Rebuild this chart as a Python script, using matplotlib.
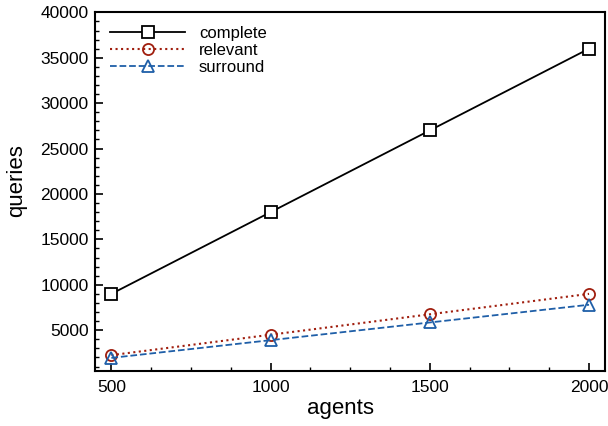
import matplotlib
matplotlib.use('Agg')
from matplotlib import pyplot as plt
from matplotlib.ticker import MultipleLocator

plt.rcParams['font.family'] = ['Liberation Sans', 'DejaVu Sans']

agents = [500, 1000, 1500, 2000]
complete = [9000, 18000, 27000, 36000]
relevant = [2250, 4500, 6750, 9000]
surround = [1950, 3900, 5850, 7800]

fig = plt.figure(figsize=(6.08, 4.26), dpi=100)
ax = fig.add_axes([0.157, 0.129, 0.838, 0.842])

ax.plot(agents, complete, '-', color='black', marker='s', markersize=8,
        markerfacecolor='white', markeredgewidth=1.3, linewidth=1.3, label='complete')
ax.plot(agents, relevant, ':', color='#a01e0e', marker='o', markersize=8,
        markerfacecolor='none', markeredgewidth=1.3, linewidth=1.5, label='relevant')
ax.plot(agents, surround, '--', color='#1f5fa8', marker='^', markersize=8,
        markerfacecolor='none', markeredgewidth=1.3, linewidth=1.3, label='surround')

ax.set_xlim(450, 2050)
ax.set_ylim(500, 40000)
ax.set_xticks(agents)
ax.set_yticks(range(5000, 40001, 5000))
ax.xaxis.set_minor_locator(MultipleLocator(125))
ax.yaxis.set_minor_locator(MultipleLocator(1000))
ax.tick_params(which='both', direction='in', top=False, right=False, labelsize=12.5)
ax.tick_params(which='major', length=6, width=1.2)
ax.tick_params(which='minor', length=3, width=1)
ax.tick_params(axis='x', which='major', pad=6.5)
ax.tick_params(axis='y', which='major', pad=5)
for s in ax.spines.values():
    s.set_linewidth(1.5)

ax.set_xlabel('agents', fontsize=16)
ax.set_ylabel('queries', fontsize=16)
ax.xaxis.set_label_coords(0.48, -0.075)
ax.yaxis.set_label_coords(-0.135, 0.53)

ax.legend(loc='upper left', frameon=False, fontsize=12, handlelength=4.5,
          labelspacing=0.12, bbox_to_anchor=(0.0, 1.005))

fig.savefig('out.png', dpi=100)
